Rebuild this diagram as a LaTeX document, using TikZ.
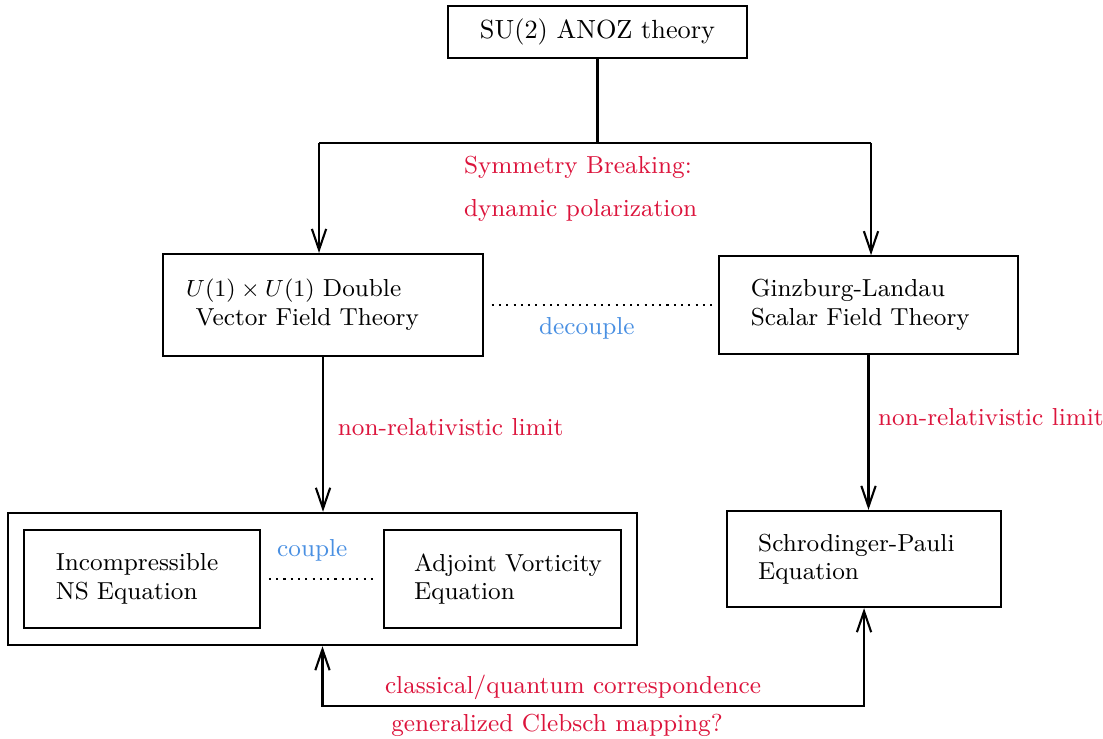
\documentclass[tikz,border=0pt]{standalone}
\usepackage{amsmath}
\usepackage{amssymb}
\usepackage{tikz}
\usetikzlibrary{arrows.meta}
\usetikzlibrary{positioning}
\usetikzlibrary{fit}
\definecolor{labred}{RGB}{220,20,60}
\definecolor{labblue}{RGB}{74,144,226}

\begin{document}
\begin{tikzpicture}[>={Straight Barb[length=8pt,width=5.5pt]},
    thick,
    font=\fontsize{9.45pt}{11pt}\selectfont,
    theory/.style = {draw, align=left, inner xsep=0.42cm, minimum height=1.32cm},
    redlabel/.style = {text=labred},
    bluelabel/.style = {text=labblue},
    link/.style = {dotted, thick, shorten <=3pt, shorten >=2pt}]
    \useasboundingbox (0,0) rectangle (14.905,-9.973);
    \node [draw, font=\fontsize{10.1pt}{12pt}\selectfont, minimum width=4.04cm, minimum height=0.7cm] (anoz) at (8.074,-0.432) {SU(2) ANOZ theory};
    \node [theory, inner xsep=0.31cm, text width=3.7cm, minimum height=1.38cm] (double) at (4.365,-4.122)
        {$U(1)\times U(1)$ Double\\ \hspace{0.13cm}Vector Field Theory};
    \node [theory, inner xsep=0.43cm, text width=3.18cm] (gl) at (11.736,-4.122) {Ginzburg-Landau\\Scalar Field Theory};
    \node [theory, inner xsep=0.43cm, text width=2.33cm] (ns) at (1.919,-7.824) {Incompressible\\NS Equation};
    \node [theory, inner xsep=0.405cm, text width=2.39cm] (adj) at (6.791,-7.824) {\mbox{Adjoint Vorticity}\\Equation};
    \node [theory, inner xsep=0.42cm, text width=2.86cm, minimum height=1.3cm] (sp) at (11.676,-7.554) {Schrodinger-Pauli\\Equation};
    \node [draw, inner xsep=0.2cm, inner ysep=0.22cm, fit=(ns) (adj)] (fluid) {};

    \coordinate (breakL) at (4.311,-1.932);
    \coordinate (breakR) at (11.770,-1.932);
    \draw (anoz.south) -- (anoz.south |- breakL);
    \draw (breakL) -- (breakR);
    \draw [->] (breakL) -- (breakL |- double.north);
    \draw [->] (breakR) -- (breakR |- gl.north);
    \node [redlabel, anchor=west] (sym) at (6.14,-2.257) {Symmetry Breaking:};
    \node [redlabel, anchor=west] (pol) at (6.14,-2.838) {dynamic polarization};

    \draw [link] (double) -- (gl) node [bluelabel, pos=0.44, below=1pt] (decouple) {decouple};
    \draw [link] (ns) -- (adj) node [bluelabel, pos=0.42, above=3pt] (couple) {couple};

    \draw [->] (double.south) -- (double.south |- fluid.north)
        node [redlabel, pos=0.45, right=2pt] (nrl1) {non-relativistic limit};
    \draw [->] (gl.south) -- (gl.south |- sp.north)
        node [redlabel, pos=0.4, right=0pt] (nrl2) {non-relativistic limit};

    \draw [<->] (fluid.south) -- ++(0,-0.81) -| (sp.south);
    \node [redlabel] (corr) at (7.743,-9.284) {classical/quantum correspondence};
    \node [redlabel] (clebsch) at (7.527,-9.80) {generalized Clebsch mapping?};
\end{tikzpicture}
\end{document}
